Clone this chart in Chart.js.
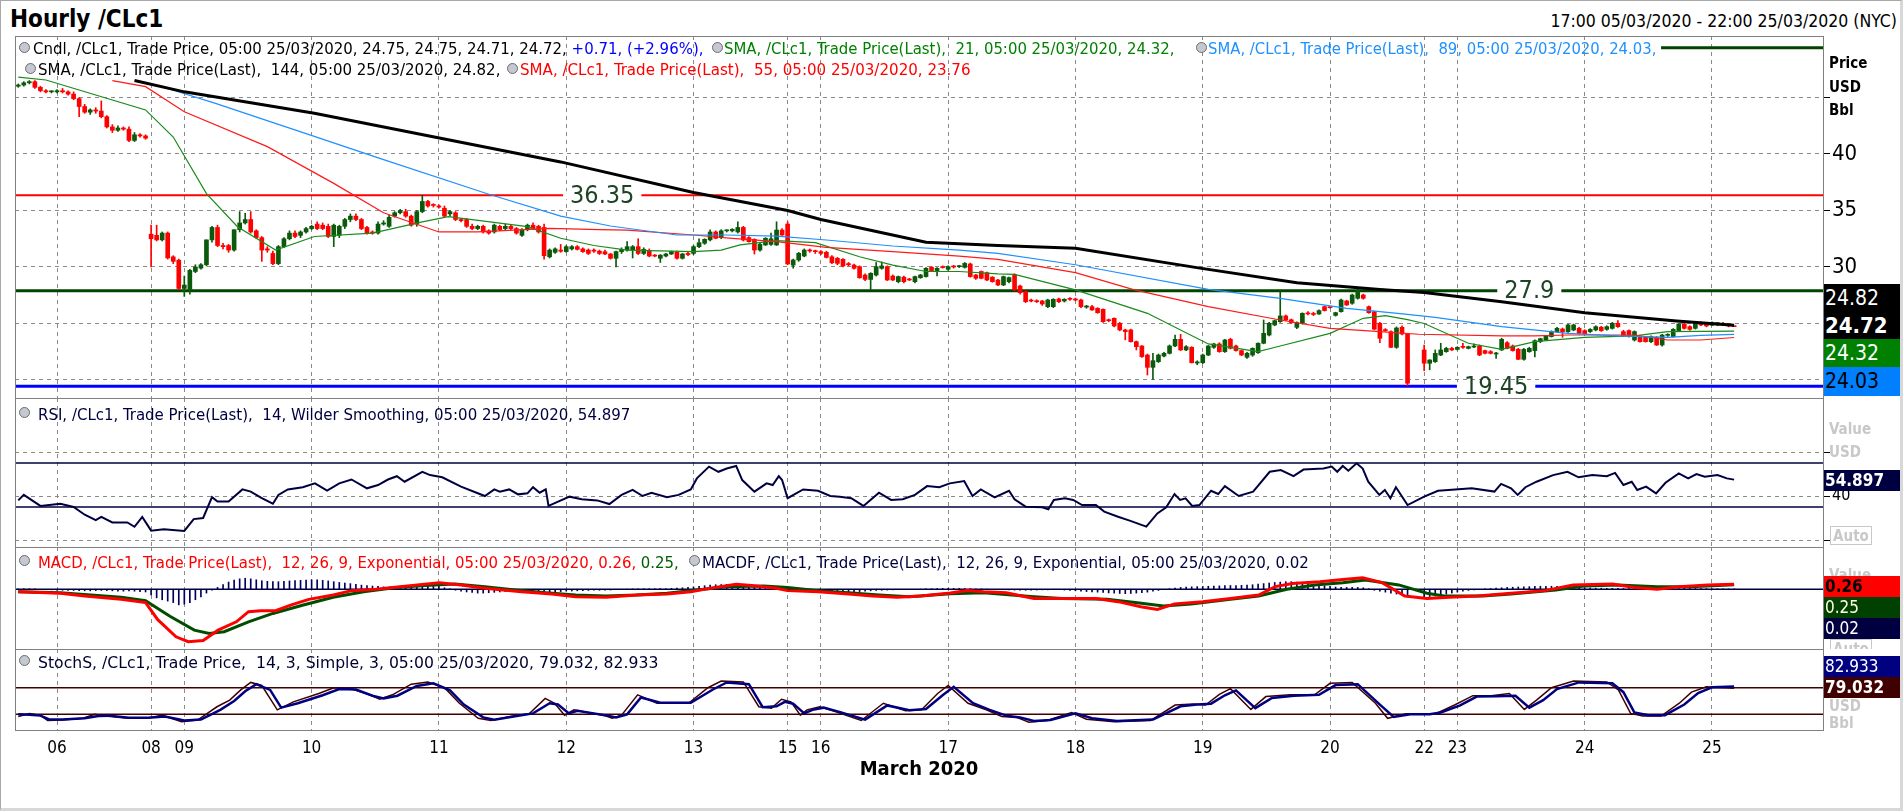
<!DOCTYPE html>
<html>
<head>
<meta charset="utf-8">
<title>Hourly /CLc1</title>
<script src="https://cdn.jsdelivr.net/npm/chart.js@4.4.1/dist/chart.umd.min.js"></script>
<style>
  html, body { margin:0; padding:0; background:#fff; }
  body { width:1903px; height:811px; position:relative; overflow:hidden;
         font-family:"DejaVu Sans Condensed","DejaVu Sans",sans-serif; }
  canvas { position:absolute; left:15px; }
  .t { position:absolute; white-space:nowrap; }
  .lg { position:absolute; font-size:15px; line-height:15px; white-space:nowrap; transform-origin:0 50%; }
  .ico { position:absolute; width:9px; height:9px; border-radius:50%; background:#c4c8d0; border:1px solid #6c6c6c; }
  .hl { position:absolute; left:15px; width:1809px; height:1px; background:#808080; }
  .axis { position:absolute; left:1824px; width:76px; overflow:hidden; }
  .box { position:absolute; left:0; width:76px; padding-left:1px; box-sizing:border-box; white-space:nowrap; }
  .gray { position:absolute; left:5px; color:#c8c8c8; font-weight:bold; font-size:15px; line-height:15px; }
  .auto { position:absolute; left:6px; width:42px; height:19px; border:1px solid #c8c8c8; color:#c8c8c8;
          font-weight:bold; font-size:15px; line-height:19px; text-align:center; box-sizing:border-box; }
</style>
</head>
<body>
<div style="position:absolute;left:0;top:0;width:1903px;height:811px;box-sizing:border-box;border:1px solid #a8a8a8;border-right:3px solid #d8d8d8;border-bottom:3px solid #d8d8d8;"></div>

<canvas id="priceChart" width="1885" height="362" style="top:36px"></canvas>
<canvas id="rsiChart" width="1885" height="149" style="top:398px"></canvas>
<canvas id="macdChart" width="1885" height="102" style="top:547px"></canvas>
<canvas id="stochChart" width="1885" height="133" style="top:649px"></canvas>

<!-- frames -->
<div style="position:absolute;left:15px;top:36px;width:1809px;height:695px;border:1px solid #808080;box-sizing:border-box;pointer-events:none"></div>
<div class="hl" style="top:398px"></div>
<div class="hl" style="top:547px"></div>
<div class="hl" style="top:649px"></div>

<!-- title -->
<div class="t" style="left:10px;top:7px;font-size:24px;line-height:24px;font-weight:bold">Hourly /CLc1</div>
<div class="t" style="right:6px;top:13px;font-size:17.5px;line-height:17.5px">17:00 05/03/2020 - 22:00 25/03/2020 (NYC)</div>

<!-- price legend -->
<span class="ico" style="left:19px;top:42px"></span>
<div class="lg fit" data-w="671" style="left:33px;top:42px">Cndl, /CLc1, Trade Price, 05:00 25/03/2020, 24.75, 24.75, 24.71, 24.72, <span style="color:#0000ff">+0.71, (+2.96%),</span></div>
<span class="ico" style="left:712px;top:42px"></span>
<div class="lg fit" data-w="451" style="left:724px;top:42px;color:#008000">SMA, /CLc1, Trade Price(Last),&nbsp; 21, 05:00 25/03/2020, 24.32,</div>
<span class="ico" style="left:1196px;top:42px"></span>
<div class="lg fit" data-w="449" style="left:1208px;top:42px;color:#1e90ff">SMA, /CLc1, Trade Price(Last),&nbsp; 89, 05:00 25/03/2020, 24.03,</div>
<span class="ico" style="left:25px;top:63px"></span>
<div class="lg fit" data-w="462" style="left:38px;top:63px">SMA, /CLc1, Trade Price(Last),&nbsp; 144, 05:00 25/03/2020, 24.82,</div>
<span class="ico" style="left:507px;top:63px"></span>
<div class="lg fit" data-w="450" style="left:520px;top:63px;color:#ff0000">SMA, /CLc1, Trade Price(Last),&nbsp; 55, 05:00 25/03/2020, 23.76</div>

<!-- RSI legend -->
<span class="ico" style="left:19px;top:407px"></span>
<div class="lg fit" data-w="592" style="left:38px;top:408px;color:#000040">RSI, /CLc1, Trade Price(Last),&nbsp; 14, Wilder Smoothing, 05:00 25/03/2020, 54.897</div>

<!-- MACD legend -->
<span class="ico" style="left:19px;top:555px"></span>
<div class="lg fit" data-w="641" style="left:38px;top:556px;color:#ff0000">MACD, /CLc1, Trade Price(Last),&nbsp; 12, 26, 9, Exponential, 05:00 25/03/2020, 0.26, <span style="color:#006000">0.25,</span></div>
<span class="ico" style="left:689px;top:555px"></span>
<div class="lg fit" data-w="607" style="left:702px;top:556px;color:#000040">MACDF, /CLc1, Trade Price(Last),&nbsp; 12, 26, 9, Exponential, 05:00 25/03/2020, 0.02</div>

<!-- Stoch legend -->
<span class="ico" style="left:19px;top:655px"></span>
<div class="lg fit" data-w="620" style="left:38px;top:656px;color:#000030">StochS, /CLc1, Trade Price,&nbsp; 14, 3, Simple, 3, 05:00 25/03/2020, 79.032, 82.933</div>

<!-- right axis: price -->
<div class="axis" style="top:36px;height:362px">
  <div class="t" style="left:5px;top:20px;font-size:15px;line-height:15px;font-weight:bold">Price</div>
  <div class="t" style="left:5px;top:44px;font-size:15px;line-height:15px;font-weight:bold">USD</div>
  <div class="t" style="left:5px;top:67px;font-size:15px;line-height:15px;font-weight:bold">Bbl</div>
  <div class="box" style="top:248px;height:28px;line-height:28px;background:#000;color:#fff;font-size:21px">24.82</div>
  <div class="box" style="top:276px;height:27px;line-height:27px;background:#000;color:#fff;font-size:22px;font-weight:bold">24.72</div>
  <div class="box" style="top:303px;height:28px;line-height:28px;background:#008000;color:#fff;font-size:21px">24.32</div>
  <div class="box" style="top:331px;height:29px;line-height:29px;background:#0080ff;color:#000;font-size:21px">24.03</div>
</div>
<!-- right axis: RSI -->
<div class="axis" style="top:399px;height:148px">
  <div class="gray" style="top:23px">Value</div>
  <div class="gray" style="top:46px">USD</div>
  <div class="box" style="top:71px;height:21px;line-height:21px;background:#000040;color:#fff;font-size:17px;font-weight:bold">54.897</div>
  <div class="auto" style="top:127px">Auto</div>
</div>
<!-- right axis: MACD -->
<div class="axis" style="top:548px;height:101px">
  <div class="gray" style="top:20px">Value</div>
  <div class="box" style="top:28px;height:21px;line-height:21px;background:#ff0000;color:#000;font-size:17px;font-weight:bold">0.26</div>
  <div class="box" style="top:49px;height:21px;line-height:21px;background:#004000;color:#ffffe0;font-size:17px">0.25</div>
  <div class="box" style="top:70px;height:21px;line-height:21px;background:#000040;color:#fff;font-size:17px">0.02</div>
  <div class="auto" style="top:91px">Auto</div>
</div>
<!-- right axis: Stoch -->
<div class="axis" style="top:650px;height:81px">
  <div class="gray" style="top:26px">Value</div>
  <div class="box" style="top:6px;height:21px;line-height:21px;background:#000080;color:#fff;font-size:17px">82.933</div>
  <div class="box" style="top:27px;height:21px;line-height:21px;background:#400000;color:#fff;font-size:17px;font-weight:bold">79.032</div>
  <div class="gray" style="top:49px">USD</div>
  <div class="gray" style="top:66px">Bbl</div>
</div>

<script>
// ---- x axis (hourly bar index, weekend hours removed; 0 = 00:00 06/03) ----
const dayTicks  = [0, 17, 23, 46, 69, 92, 115, 132, 138, 161, 184, 207, 230, 247, 253, 276, 299];
const dayLabels = ['06','08','09','10','11','12','13','15','16','17','18','19','20','22','23','24','25'];
const T_MIN = -7.59, T_MAX = 319.06;

// ---- price ticks and levels ----
const priceGrid = [20, 25, 30, 35, 40, 45];
const priceTickLabels = [30, 35, 40];
const levelValues = [36.35, 27.9, 19.45];
const levelLabelAt = [98.5, 266, 260];
const topLineValue = 49.4, topLineFrom = 289.8;

// ---- hourly candles [open, high, low, close] ----
const week1Start = -7;
const week1 = [
  [46.0,46.2,45.9,46.1],[46.1,46.4,46.0,46.3],[46.3,46.5,46.2,46.4],[46.4,46.5,45.8,45.9],
  [45.9,46.0,45.5,45.6],[45.6,45.7,45.4,45.5],[45.5,45.6,45.4,45.5],[45.5,45.7,45.4,45.6],
  [45.6,45.8,45.4,45.5],[45.5,45.6,45.2,45.3],[45.3,45.5,44.8,44.9],[44.9,45.0,43.3,44.2],
  [44.2,44.4,43.6,43.7],[43.7,44.0,43.5,43.9],[43.9,44.1,43.6,43.8],[43.8,44.7,43.2,43.3],
  [43.3,43.4,42.3,42.4],[42.4,42.6,41.9,42.1],[42.1,42.5,42.0,42.3],[42.3,42.4,42.1,42.2],
  [42.2,42.4,41.1,41.2],[41.2,41.9,41.1,41.7],[41.7,41.8,41.5,41.6],[41.6,41.7,41.3,41.4]
];
const week2Start = 17;
const week2 = [
  [32.9,33.7,30.0,32.5],[32.8,33.7,32.3,32.4],[32.4,33.1,32.3,33.0],[33.0,33.1,30.7,30.8],
  [30.9,31.0,30.3,30.5],[30.6,30.7,28.0,28.1],[28.1,29.2,27.4,28.4],[28.0,29.8,27.6,29.7],
  [29.6,30.2,29.5,30.0],[29.9,30.3,29.8,30.2],[30.2,32.4,30.1,32.4],[32.4,33.6,32.2,33.5],
  [33.5,33.7,31.8,31.9],[31.9,32.1,31.6,31.8],[31.9,32.0,31.3,31.5],[31.5,33.3,31.4,33.3],
  [33.3,34.9,33.1,33.9],[33.9,34.75,33.8,34.2],[34.2,34.9,33.0,33.1],[33.2,33.3,32.5,32.6],
  [32.6,32.7,30.5,31.5],[31.6,31.8,31.3,31.5],[31.2,31.4,30.2,30.3],[30.3,31.9,30.2,31.8],
  [31.8,32.6,31.7,32.5],[32.5,33.2,32.4,33.0],[33.0,33.2,32.6,32.7],[32.8,33.2,32.6,33.1],
  [33.1,33.5,33.0,33.4],[33.4,33.7,33.3,33.6],[33.8,34.0,33.3,33.4],[33.7,33.9,33.3,33.4],
  [33.6,33.8,32.6,32.7],[32.7,33.8,31.8,33.7],[32.8,33.7,32.6,33.6],[33.6,34.3,33.4,34.2],
  [34.2,34.7,34.0,34.5],[34.5,34.7,34.1,34.2],[34.2,34.3,33.3,33.4],[33.5,33.6,32.9,33.0],
  [33.1,33.2,32.9,33.0],[33.0,34.0,32.9,33.8],[33.8,34.1,33.7,33.9],[33.6,34.6,33.5,34.4],
  [34.5,34.9,34.4,34.8],[34.8,35.1,34.7,35.0],[34.9,35.1,34.4,34.5],[34.5,34.6,33.6,33.7],
  [33.8,35.0,33.6,34.9],[34.9,36.35,34.8,35.8],[35.8,35.9,35.3,35.4],[35.5,35.6,35.3,35.45],
  [35.4,35.5,35.2,35.3],[35.2,35.4,34.4,34.5],[34.7,35.0,34.5,34.9],[34.8,34.9,34.1,34.2],
  [34.2,34.3,34.0,34.1],[34.2,34.3,33.5,33.6],[33.6,33.8,33.3,33.4],[33.4,33.7,33.3,33.6],
  [33.6,33.7,33.0,33.1],[33.2,33.3,32.9,33.0],[33.1,33.8,33.0,33.7],[33.6,33.7,33.2,33.3],
  [33.4,33.8,33.3,33.6],[33.6,33.7,33.3,33.4],[33.4,33.5,32.9,33.0],[32.8,33.4,32.7,33.3],
  [33.3,33.8,33.2,33.7],[33.7,33.9,33.3,33.4],[33.6,33.7,33.0,33.1],[33.5,33.8,30.7,31.0],
  [30.9,31.6,30.8,31.5],[31.3,31.7,31.2,31.6],[31.5,32.0,31.3,31.4],[31.36,31.9,31.3,31.8],
  [31.6,31.9,31.5,31.8],[31.8,31.9,31.5,31.56],[31.6,31.7,31.3,31.36],[31.5,31.6,31.1,31.2],
  [31.5,31.6,31.3,31.4],[31.4,31.5,31.1,31.2],[31.35,31.5,31.1,31.15],[31.15,31.2,30.7,30.77],
  [30.77,31.4,30.0,31.36],[31.36,31.7,31.2,31.56],[31.5,32.24,31.4,31.8],[31.5,31.9,30.8,31.8],
  [31.8,32.5,31.1,31.2],[31.2,31.7,31.1,31.56],[31.45,31.6,30.9,30.97],[31.05,31.1,30.9,30.97],
  [30.77,31.1,30.4,31.05],[30.97,31.2,30.9,31.15],[31.15,31.4,31.1,31.36],[31.3,31.4,30.7,30.77],
  [30.77,31.2,30.7,31.15],[31.2,31.3,31.0,31.1],[31.2,31.9,31.1,31.8],[31.8,32.5,31.7,32.15],
  [32.1,32.5,32.0,32.45],[32.4,33.3,32.3,33.1],[33.1,33.2,32.5,32.54],[32.6,33.3,32.5,33.2],
  [33.2,33.3,33.1,33.25],[33.2,33.4,33.1,33.33],[33.1,34.0,33.0,33.5],[33.5,33.6,32.3,32.39],
  [32.6,32.7,32.2,32.24],[32.45,32.5,31.15,31.5],[31.5,32.1,31.4,32.0],[31.95,32.6,31.9,32.54],
  [32.0,33.0,31.9,32.5],[31.95,34.0,31.9,33.27],[33.27,33.4,32.8,32.83]
];
const week3Start = 132;
const week3 = [
  [33.8,34.0,30.2,30.27],[30.17,30.7,29.9,30.62],[30.62,31.3,30.5,31.21],[30.97,31.6,30.9,31.5],
  [31.5,31.6,31.3,31.42],[31.42,31.5,31.2,31.36],[31.36,31.45,31.1,31.21],[31.3,31.4,30.8,30.85],
  [30.9,31.0,30.3,30.38],[30.77,30.85,30.2,30.32],[30.68,30.75,30.0,30.09],[30.3,30.4,30.1,30.2],
  [30.17,30.25,29.8,29.88],[30.03,30.1,29.0,29.05],[29.29,29.4,28.8,28.9],[28.9,29.5,28.0,29.44],
  [29.29,30.4,29.2,30.03],[29.88,30.45,29.8,30.09],[30.03,30.1,28.8,28.85],[29.2,29.3,28.8,28.85],
  [28.7,29.2,28.6,29.15],[29.1,29.2,28.6,28.7],[28.9,29.0,28.8,28.85],[28.7,29.2,28.6,29.15],
  [29.05,29.35,29.0,29.29],[29.15,29.95,29.1,29.88],[29.97,30.05,29.6,29.68],[29.68,29.95,29.2,29.88],
  [30.0,30.1,29.9,29.95],[29.8,30.1,29.7,30.03],[30.05,30.15,29.9,30.0],[30.03,30.15,29.95,30.09],
  [29.97,30.4,29.9,30.32],[30.27,30.35,29.1,29.15],[29.29,29.35,28.9,29.0],[29.6,29.65,28.95,29.0],
  [29.5,29.55,28.8,28.85],[29.1,29.15,28.65,28.7],[28.85,28.9,28.35,28.41],[28.41,29.2,28.35,29.15],
  [28.7,29.1,28.6,29.06],[29.29,29.4,27.9,27.97],[28.32,28.4,27.6,27.73],[27.82,27.9,26.85,26.93],
  [27.05,27.15,26.9,26.99],[27.0,27.1,26.85,26.93],[26.99,27.05,26.6,26.73],[26.49,27.15,26.4,27.08],
  [26.49,27.2,26.4,27.14],[27.17,27.25,26.85,26.93],[26.99,27.2,26.9,27.14],[27.2,27.3,27.05,27.14],
  [27.15,27.25,27.0,27.08],[27.08,27.15,26.4,26.49],[26.45,26.6,26.35,26.55],[26.49,26.6,26.15,26.2],
  [26.34,26.4,25.9,25.96],[26.25,26.3,25.1,25.16],[25.3,25.4,25.15,25.25],[25.46,25.5,24.7,24.78],
  [25.02,25.1,24.35,24.43],[24.43,24.5,23.55,24.28],[24.43,24.5,23.35,23.39],[23.39,23.45,22.66,22.95],
  [23.01,23.05,22.0,22.07],[22.21,22.3,20.44,21.12],[21.12,22.36,20.06,21.71],[21.62,22.3,21.55,22.21],
  [22.12,22.45,22.05,22.36],[22.36,23.1,22.3,23.01],[23.01,23.98,22.95,23.6],[23.6,24.04,22.6,22.66],
  [22.66,23.05,22.6,22.95],[22.89,22.95,21.5,21.53],[21.5,21.7,21.35,21.6],[21.53,22.3,21.45,22.21],
  [22.21,23.05,22.15,23.01],[22.89,23.25,22.8,23.19],[23.19,23.3,22.45,22.51],[22.51,23.6,22.45,23.54],
  [23.6,23.7,22.75,22.8],[23.01,23.1,22.55,22.6],[22.6,22.65,22.15,22.21],[22.01,22.45,21.9,22.36],
  [22.21,22.85,22.1,22.8],[22.42,23.3,22.35,23.25],[23.25,25.31,23.2,24.13],[23.98,25.1,23.9,25.02],
  [24.87,25.3,24.8,25.25],[25.16,27.82,25.1,25.67],[25.67,25.75,25.25,25.31],[25.33,25.4,25.0,25.08],
  [24.66,25.15,24.55,25.08],[25.02,25.95,24.95,25.9],[25.9,26.05,25.75,25.85],[25.85,26.0,25.7,25.8],
  [25.84,26.2,25.8,26.14],[26.49,26.55,26.1,26.14],[26.45,26.5,26.35,26.4],[25.72,26.0,25.65,25.96],
  [26.05,27.15,26.0,27.08],[26.99,27.05,26.6,26.64],[26.79,27.6,26.7,27.52],[27.23,28.0,27.15,27.91],
  [27.52,27.6,27.15,27.23],[26.49,26.55,25.9,25.96],[26.05,26.1,24.45,24.5],[25.02,25.1,23.3,23.69],
  [24.45,24.55,24.3,24.37],[24.28,24.35,22.85,22.89],[22.89,24.7,22.8,24.6],[24.66,24.8,24.0,24.07],
  [24.07,24.1,19.5,19.71],null,null
];
const week4Start = 247;
const week4 = [
  [22.66,23.1,20.83,21.48],[21.48,21.8,20.9,21.77],[21.62,22.66,21.55,22.36],[22.21,23.25,22.15,22.66],
  [22.51,22.9,22.45,22.8],[22.8,22.9,22.6,22.66],[22.71,22.95,22.65,22.89],[22.95,23.25,22.8,22.89],
  [22.8,23.0,22.75,22.95],[22.92,23.19,22.85,22.98],[23.01,23.1,22.15,22.21],[22.6,22.65,22.3,22.36],
  [22.51,22.6,22.3,22.36],[22.3,22.45,21.92,22.36],[22.66,23.7,22.6,23.6],[23.3,23.4,22.75,22.8],
  [23.01,23.1,22.55,22.6],[22.71,22.8,21.8,21.83],[21.83,22.8,21.75,22.71],[22.51,22.9,22.45,22.8],
  [22.6,23.55,22.05,23.48],[23.39,23.7,23.3,23.66],[23.54,23.95,23.5,23.89],[23.84,24.35,23.8,24.28],
  [24.28,24.65,24.2,24.57],[24.51,24.6,23.78,24.28],[24.28,24.95,24.2,24.87],[24.43,24.95,24.35,24.87],
  [24.57,24.65,24.05,24.13],[24.37,24.45,24.0,24.07],[24.28,24.55,24.2,24.48],[24.43,24.8,24.35,24.72],
  [24.66,24.75,24.3,24.37],[24.48,24.8,24.4,24.72],[24.57,25.1,24.5,25.02],[25.02,25.25,24.65,24.72],
  [24.28,24.4,23.85,23.89],[24.37,24.45,23.8,23.84],[23.54,24.35,23.45,24.28],[23.84,23.9,23.35,23.39],
  [23.78,23.85,23.35,23.39],[23.39,23.9,23.3,23.84],[23.78,23.85,23.05,23.1],[23.1,24.05,23.0,23.98],
  [23.95,24.1,23.85,24.0],[23.84,24.55,23.8,24.48],[24.37,25.0,24.3,24.96],[24.96,25.05,24.5,24.57],
  [24.72,24.8,24.4,24.48],[24.57,25.1,24.5,25.02],[25.07,25.15,24.8,24.87],[25.02,25.1,24.7,24.78],
  [24.84,25.15,24.8,25.07],[24.87,25.1,24.8,25.07],[25.02,25.1,24.8,24.87],[24.96,25.0,24.7,24.78],
  [24.75,24.75,24.71,24.72]
];

// ---- moving averages [bar, value] ----
const sma21 = [[-7,46.8],[-2,46.55],[16,43.9],[21,41.5],[27,36.5],[32.6,33.57],[39.5,31.5],[46.5,32.7],
  [57,33.0],[66,34.0],[70.7,34.45],[85,33.57],[91,32.54],[97,31.9],[103,31.5],[115,31.36],[120,31.5],
  [123.4,31.95],[130,32.33],[137,32.15],[145,30.91],[151,30.17],[157,29.6],[163,29.6],[170,29.4],
  [173,29.35],[184,27.97],[197,25.9],[208,23.19],[217,22.51],[221,23.01],[230,24.13],[236,25.46],
  [240,25.7],[244,25.35],[247,25.0],[255,23.25],[261,22.71],[267,23.39],[276,23.78],[285,23.9],
  [291,24.28],[303,24.32]];
const sma55 = [[10,46.5],[16,45.96],[23,43.74],[38,40.65],[50,37.4],[59,34.8],[69,33.1],[76,33.1],
  [89,33.42],[98,33.3],[103,33.27],[115,32.83],[122,32.54],[130,32.24],[139,31.74],[151,31.36],
  [163,30.97],[170,30.68],[184,29.5],[194.5,28.0],[208,26.49],[221,25.31],[230,24.57],[239,24.28],
  [246,24.05],[261,23.9],[267,23.9],[273,23.98],[285,23.98],[291,23.54],[297,23.54],[303,23.76]];
const sma89 = [[20,45.8],[28.5,44.5],[45,41.8],[59,39.5],[77.6,36.5],[91,34.5],[100,33.63],[112,32.83],
  [121,32.83],[130,32.74],[139,32.39],[151,31.86],[163,31.5],[170,31.2],[184,30.2],[208,28.02],
  [221,27.23],[233,26.34],[239,26.05],[244,25.8],[249,25.55],[261,24.72],[273,24.13],[282,23.9],
  [291,23.78],[297,23.95],[303,24.03]];
const sma144 = [[14,46.5],[23,45.5],[46.5,43.6],[69.3,41.4],[91,39.3],[115,36.6],[132,35.0],[138,34.2],
  [157,32.2],[170,31.9],[184,31.65],[206.5,29.9],[224,28.6],[239,28.0],[247,27.75],[261,26.93],
  [276,25.96],[292.6,25.22],[303,24.85]];

// ---- RSI(14) ----
const rsiLevels = [30, 70];
const rsiGrid = [0, 40, 80];
const rsi14 = [[-7,36],[-6,41],[-3,31],[0.6,33],[3,30],[5,23],[7,18],[8,21],[10,16],[12.7,16],[14,12],
  [15.4,21],[17,8.5],[19.3,9.7],[23,8.2],[24.7,19],[26.4,20],[28,39],[29,35],[31,35],[33.5,46],[35,44],
  [37,38],[39,33],[40,41],[41.7,46],[44.4,48],[46.6,51.5],[48.8,45],[51,51.5],[53.2,55],[56,47],[58,50],
  [59.8,55],[61.4,58],[62.8,53],[66,62],[67.4,59],[69.6,57],[73,48.5],[77.3,40],[79,46],[80,44],
  [81.7,46],[83.3,41.5],[85,42.4],[86,48],[87.2,43],[88.3,46],[88.8,31],[92.6,39.4],[94.8,37],
  [97.6,36],[99.8,32.7],[102,41],[104,45.5],[105.8,40],[107.4,43],[110.2,38.8],[112.3,41],[114.5,46],
  [115.6,56],[117.8,66.7],[119.5,62],[121,65],[122.7,67.3],[123.8,54.5],[126,44],[128.2,51.5],
  [129.3,50],[130.4,58],[131,54.5],[132,38],[134.8,46],[137.5,44.8],[139.7,40],[141.4,39.4],
  [143.5,38],[145.7,31],[148.5,43],[150.7,36.4],[152.8,37],[155,41],[157.2,49],[159.4,48],
  [161.3,51.5],[163.9,53.6],[165.4,40],[166.9,46],[169.4,38.8],[172,44.8],[173,37],[175,30.3],
  [178,29.7],[179.1,27.9],[180.1,36.4],[182.1,37.9],[183.6,36.4],[185.2,31.8],[187.7,31.8],
  [189.2,25.8],[191.7,21.2],[193.8,17.6],[196.8,12.1],[198.8,24.2],[200.4,29.7],[201.9,41.8],
  [202.9,36.4],[203.9,37.9],[205.1,30.9],[206.4,31.8],[208.5,44.8],[209.8,41.8],[211,49],[213.5,40],
  [216.1,44],[219.1,62],[221.1,63.6],[223.4,58],[225.2,64],[228.8,65],[230.3,66.7],[231.3,62],
  [232.3,67.3],[233.3,63],[234.8,69.7],[235.9,65],[236.9,53],[238.9,41],[239.9,45.5],[240.9,38],
  [241.9,48],[244,31.8],[247,39.4],[249.5,44.8],[252.6,46],[255.6,47],[259.7,44],[260.9,51],
  [262.7,47],[263.9,41],[265.3,48],[267.3,53],[270.3,59],[272.9,62],[274.9,57],[277.4,59],[280,58],
  [281.5,61],[283,50],[284.5,53],[285.5,45.5],[287.1,48.5],[288.9,42.4],[290.6,52],[293,60.6],
  [294.7,56],[296.2,60],[297.7,57.6],[300,59],[301.7,56],[303,54.9]];

// ---- MACD(12,26,9) ----
const macdLine = [[-7,-0.13],[0.6,-0.21],[5,-0.35],[11.6,-0.52],[16,-0.7],[18.2,-1.6],[21.5,-2.5],
  [23.7,-2.76],[26.4,-2.7],[29.1,-2.15],[32.4,-1.71],[34.6,-1.18],[36.8,-1.13],[39.5,-1.13],[42.2,-0.83],
  [45.5,-0.53],[49.9,-0.3],[53.2,-0.07],[57.6,0.0],[62,0.14],[66.4,0.26],[69.1,0.35],[73,0.23],
  [77.3,0.05],[83.9,-0.13],[89.4,-0.25],[93.7,-0.39],[99.2,-0.42],[104.7,-0.3],[110.2,-0.25],
  [114.5,-0.13],[118.9,0.1],[122.7,0.26],[125.5,0.2],[129.9,0.05],[132,-0.07],[137.5,-0.13],
  [143,-0.25],[147.4,-0.35],[151.8,-0.42],[156.1,-0.35],[161.4,-0.2],[164.4,-0.07],[167.4,-0.13],
  [171.5,-0.18],[176.5,-0.48],[181.6,-0.48],[187.7,-0.48],[191.7,-0.65],[195.8,-0.92],[198.8,-1.06],
  [201.9,-0.77],[207,-0.65],[212,-0.48],[217.1,-0.3],[220.1,0.14],[223.2,0.31],[228.2,0.4],
  [232.3,0.52],[235.9,0.61],[239.4,0.35],[243.5,-0.35],[247.5,-0.49],[251.6,-0.42],[256.6,-0.35],
  [262.7,-0.21],[268.8,-0.07],[273.9,0.23],[281,0.28],[285,0.1],[289.1,0.0],[293.1,0.14],
  [298.2,0.23],[303,0.26]];
const macdSignal = [[-7,-0.13],[0.6,-0.18],[11.6,-0.42],[16,-0.6],[20.4,-1.42],[24.8,-2.15],[27.5,-2.32],
  [30.2,-2.23],[34.6,-1.71],[39,-1.27],[44.5,-0.83],[49.9,-0.42],[55.4,-0.13],[60.9,0.08],[66.4,0.2],
  [71.9,0.28],[77.3,0.14],[82.8,-0.04],[88.3,-0.18],[93.7,-0.3],[99.2,-0.35],[104.7,-0.3],
  [110.2,-0.21],[115.6,-0.04],[121.1,0.14],[127.7,0.17],[132,0.1],[137.5,-0.07],[143,-0.18],
  [148.5,-0.3],[154,-0.39],[161.4,-0.24],[167.4,-0.18],[176.5,-0.39],[181.6,-0.48],[189.7,-0.53],
  [194.8,-0.7],[199.9,-0.88],[204.9,-0.77],[212,-0.53],[217.1,-0.35],[222.2,0.0],[227.2,0.23],
  [232.3,0.35],[236.4,0.49],[242.4,0.23],[247.5,-0.21],[250.6,-0.35],[257.6,-0.35],[262.7,-0.25],
  [270.8,-0.04],[275.9,0.17],[282,0.23],[289.1,0.14],[295.2,0.14],[303,0.24]];
// histogram, one value per bar from bar -7
const macdHistStart = -7;
const macdHist = [
  0.02,0.03,0.03,0.02,0.0,-0.02,-0.03,-0.04,-0.05,-0.06,-0.06,-0.07,-0.08,-0.08,-0.07,-0.06,-0.07,-0.08,-0.1,-0.1,-0.09,-0.1,-0.12,-0.14,
  -0.3,-0.45,-0.55,-0.62,-0.7,-0.82,-0.78,-0.7,-0.55,-0.4,-0.2,-0.05,
  0.1,0.25,0.38,0.48,0.55,0.58,0.55,0.5,0.45,0.42,0.4,0.4,0.42,0.44,0.46,0.47,0.48,0.5,0.5,0.47,0.44,0.4,
  0.36,0.33,0.3,0.26,0.22,0.19,0.17,0.15,0.13,0.12,0.13,0.14,0.15,0.17,0.18,0.2,0.21,0.2,0.15,0.08,0.02,
  -0.05,-0.1,-0.14,-0.17,-0.2,-0.2,-0.18,-0.16,-0.14,-0.12,-0.1,-0.1,-0.1,-0.1,-0.09,-0.08,-0.1,-0.13,-0.14,
  -0.12,-0.1,-0.09,-0.08,-0.07,-0.06,-0.05,-0.05,-0.04,-0.04,-0.02,0.0,0.01,0.02,0.02,0.03,0.03,0.03,0.04,0.04,0.05,0.06,
  0.08,0.1,0.13,0.16,0.19,0.22,0.24,0.25,0.26,0.26,0.25,0.22,0.2,0.17,0.15,0.13,0.12,0.12,0.1,
  0.02,-0.05,-0.08,-0.1,-0.1,-0.11,-0.12,-0.12,-0.13,-0.13,-0.14,-0.14,-0.13,-0.12,-0.1,-0.08,-0.06,-0.05,-0.04,-0.03,-0.02,-0.02,-0.01,0.0,0.01,0.02,0.03,0.04,0.05,0.05,
  0.05,0.05,0.04,0.03,0.02,0.02,0.01,0.0,-0.01,-0.02,-0.03,-0.04,-0.05,-0.05,-0.05,-0.04,-0.03,-0.03,-0.02,-0.02,
  -0.04,-0.06,-0.08,-0.1,-0.12,-0.14,-0.15,-0.17,-0.19,-0.2,-0.22,-0.23,-0.22,-0.2,-0.18,-0.15,-0.1,-0.06,-0.02,
  0.03,0.07,0.1,0.12,0.13,0.14,0.15,0.16,0.17,0.18,0.19,0.2,0.2,0.21,0.22,0.24,0.27,0.3,0.33,0.36,0.38,
  0.4,0.4,0.38,0.35,0.3,0.26,0.22,0.18,0.15,0.12,0.1,0.1,0.1,0.1,0.08,0.03,
  -0.05,-0.1,-0.15,-0.2,-0.25,-0.3,-0.35,null,null,
  -0.4,-0.38,-0.35,-0.3,-0.25,-0.2,-0.15,-0.1,-0.06,-0.03,0.0,0.02,0.04,0.06,0.08,0.1,0.11,0.12,0.13,0.14,
  0.15,0.16,0.16,0.16,0.15,0.14,0.12,0.1,0.09,0.08,0.07,0.06,0.06,0.05,0.05,0.05,0.04,0.04,0.04,0.04,
  0.05,0.05,0.05,0.05,0.05,0.05,0.05,0.05,0.05,0.04,0.04,0.04,0.03,0.03,0.02,0.02,0.02
];

// ---- Slow stochastic (14,3,3) ----
const stochLevels = [20, 80];
const stochK = [[-7,15],[-5,22],[-3,18],[-1.7,6],[1,7],[4.7,11],[6.8,20],[8.7,16],[12.8,11],[16.2,11],
  [19,18],[22.5,3],[25.4,7],[28.9,37],[31.2,52],[33.2,75],[35,92],[37,85],[39.8,30],[42.7,48],[47.3,67],
  [50,80],[53,78],[56.5,64],[58.3,54],[60.6,64],[64,88],[67,93],[70,80],[72.7,45],[76.1,11],[78.4,6],
  [81.9,15],[85.3,21],[88.2,56],[89.9,45],[91.7,18],[93.4,30],[99.2,16],[100.3,11],[102,18],[104.9,64],
  [108.4,45],[114.1,45],[117.6,80],[120,95],[124,93],[126.8,37],[129.1,34],[130.9,54],[132.6,48],
  [134.3,18],[135.5,30],[137.8,37],[140.6,26],[145.3,6],[149.3,45],[153.3,28],[156.2,30],[159.1,67],
  [161,85],[164.6,45],[167.9,30],[170.7,15],[173.4,13],[175.6,2],[178.9,6],[183.3,24],[186,9],[191,3],
  [197.6,6],[202,41],[205.3,43],[207.5,41],[210,65],[212,78],[215.7,31],[218.4,60],[222.8,64],
  [227.2,64],[230,90],[234,92],[238.2,45],[240.4,11],[243.7,21],[247.6,21],[249.2,22],[252.5,41],
  [255.8,62],[259.1,62],[262.4,67],[265.1,31],[267.3,52],[270,80],[274,95],[280,93],[282.1,75],
  [284.3,22],[286.5,16],[289.8,16],[293.1,45],[295.3,70],[298,82],[303,79]];
const stochD = [[-7,20],[-5,19],[-3,17],[-1.5,9],[1,8],[5,11],[7.5,16],[9.5,17],[13,12],[16.5,12],
  [19.5,15],[23,6],[26,8],[29.5,30],[32,50],[34,72],[36,88],[38.5,75],[40.5,35],[43.5,45],[48,63],
  [51,77],[54,76],[57,62],[59,56],[61.5,62],[65,84],[68,90],[71,74],[73.5,42],[77,13],[79,8],[82.5,15],
  [86,22],[89,45],[90.5,42],[92.5,22],[94,28],[99.5,17],[101,13],[103,20],[105.5,58],[109,46],
  [114.5,46],[118.5,76],[121,92],[125,88],[127.5,36],[130,38],[131.5,48],[133,44],[135,22],[136.5,30],
  [138.5,35],[141.5,25],[146,8],[150,40],[154,29],[157,32],[160,63],[162,82],[165.5,45],[168.5,30],
  [171.5,17],[174,13],[176.5,5],[179.5,7],[184,22],[187,11],[191.5,5],[198,8],[203,38],[206,42],
  [208.5,44],[211,63],[213,74],[216.5,34],[219.5,57],[223.5,62],[228,64],[231,86],[235,88],[239,42],
  [241.5,14],[244.5,20],[248,20],[250,24],[253.5,40],[256.5,60],[260,61],[263.5,62],[266,35],
  [268.5,52],[271,77],[275,92],[281,90],[283,70],[285,24],[287.5,18],[290.5,18],[294,42],[296.5,68],
  [299,81],[303,83]];

// ---------------------------------------------------------------------------
const FONT = '"DejaVu Sans Condensed", "DejaVu Sans", sans-serif';
Chart.defaults.font.family = FONT;
const UP = '#0b5a0b', DOWN = '#ff0000';
const pts = arr => arr.map(p => ({ x: p[0], y: p[1] }));
const flat = (v, a, b) => [{ x: a, y: v }, { x: b, y: v }];

const bodies = [], wicks = [];
[[week1Start, week1], [week2Start, week2], [week3Start, week3], [week4Start, week4]].forEach(function (w) {
    w[1].forEach(function (c, i) {
        if (!c) return;
        var up = c[3] >= c[0];
        bodies.push({ x: w[0] + i, y: [c[0], c[3]], up: up });
        wicks.push({ x: w[0] + i, y: [c[2], c[1]], up: up });
    });
});
const hist = [];
macdHist.forEach(function (v, i) { if (v !== null) hist.push({ x: macdHistStart + i, y: [0, v] }); });

function xAxis(showLabels) {
    return {
        type: 'linear', min: T_MIN, max: T_MAX, offset: false,
        afterBuildTicks: function (s) { s.ticks = dayTicks.map(function (v) { return { value: v }; }); },
        afterFit: function (s) { s.height = showLabels ? 52 : 0; s.paddingLeft = 0; s.paddingRight = 0; },
        grid: { color: '#8a8a8a', lineWidth: 1, drawTicks: false, offset: false },
        border: { display: false, dash: [4, 4] },
        ticks: {
            display: showLabels, autoSkip: false, maxRotation: 0, padding: 8, color: '#000',
            font: { size: 17 },
            callback: function (v) { var i = dayTicks.indexOf(v); return i < 0 ? '' : dayLabels[i]; }
        },
        title: { display: showLabels, text: 'March 2020', color: '#000', font: { size: 20, weight: 'bold' }, padding: 0 }
    };
}
function yAxis(min, max, grid, labels, size) {
    return {
        position: 'right', min: min, max: max,
        afterFit: function (s) { s.width = 77; s.paddingTop = 0; s.paddingBottom = 0; },
        afterBuildTicks: function (s) { s.ticks = (grid || []).map(function (v) { return { value: v }; }); },
        grid: { display: !!grid, color: '#8a8a8a', drawTicks: true, tickLength: 7, tickBorderDash: [],
                tickColor: '#000' },
        border: { display: false, dash: [4, 4] },
        ticks: { display: !!labels, padding: 2, color: '#000', font: { size: size || 16 },
                 callback: function (v) { return labels && labels.indexOf(v) >= 0 ? String(v) : ''; } }
    };
}
const baseOpts = {
    responsive: false, animation: false, devicePixelRatio: 1,
    layout: { padding: 0, autoPadding: false },
    plugins: { legend: { display: false }, tooltip: { enabled: false } },
    elements: { point: { radius: 0 }, line: { tension: 0 } }
};
function opts(scales, extra) { return Object.assign({}, baseOpts, { scales: scales }, extra || {}); }
function line(data, color, width, order) {
    return { type: 'line', data: data, borderColor: color, borderWidth: width, pointRadius: 0, order: order, fill: false };
}

const levelLabels = {
    id: 'levelLabels',
    afterDatasetsDraw: function (chart) {
        var ctx = chart.ctx, x = chart.scales.x, y = chart.scales.y;
        ctx.save();
        ctx.font = '25px ' + FONT;
        ctx.textAlign = 'center';
        ctx.textBaseline = 'middle';
        levelValues.forEach(function (v, i) {
            var px = x.getPixelForValue(levelLabelAt[i]), py = y.getPixelForValue(v);
            var txt = String(v), w = ctx.measureText(txt).width;
            ctx.fillStyle = '#fff';
            ctx.fillRect(px - w / 2 - 7, py - 4, w + 14, 8);
            ctx.fillStyle = '#1d4424';
            ctx.fillText(txt, px, py + 1);
        });
        ctx.restore();
    }
};

// Price chart
new Chart(document.getElementById('priceChart'), {
    type: 'bar',
    data: { datasets: [
        line(flat(levelValues[0], T_MIN, T_MAX), '#ff0000', 2, 20),
        line(flat(levelValues[1], T_MIN, T_MAX), '#004400', 3, 20),
        line(flat(levelValues[2], T_MIN, T_MAX), '#0000ff', 3, 20),
        line(flat(topLineValue, topLineFrom, T_MAX), '#004400', 3, 20),
        { type: 'bar', data: wicks, barThickness: 1, grouped: false, order: 11, borderWidth: 0,
          backgroundColor: function (c) { return c.raw && c.raw.up ? UP : DOWN; } },
        { type: 'bar', data: bodies, barThickness: 4, minBarLength: 1, grouped: false, order: 10, borderWidth: 0,
          backgroundColor: function (c) { return c.raw && c.raw.up ? UP : DOWN; } },
        line(pts(sma21), '#1a8a1a', 1.2, 4),
        line(pts(sma55), '#ff1a1a', 1.2, 3),
        line(pts(sma89), '#1e90ff', 1.2, 2),
        line(pts(sma144), '#000000', 3, 1)
    ] },
    options: opts({ x: xAxis(false), y: yAxis(18.407, 50.442, priceGrid, priceTickLabels, 22) }),
    plugins: [levelLabels]
});

// RSI chart
new Chart(document.getElementById('rsiChart'), {
    type: 'line',
    data: { datasets: [
        line(flat(rsiLevels[0], T_MIN, T_MAX), '#000040', 1.5, 3),
        line(flat(rsiLevels[1], T_MIN, T_MAX), '#000040', 1.5, 3),
        line(pts(rsi14), '#000040', 2, 1)
    ] },
    options: opts({ x: xAxis(false), y: yAxis(-6.36, 129.09, rsiGrid, [40], 16) })
});

// MACD chart
new Chart(document.getElementById('macdChart'), {
    type: 'bar',
    data: { datasets: [
        { type: 'bar', data: hist, barThickness: 1, grouped: false, backgroundColor: '#000060', order: 5 },
        line(flat(0, T_MIN, T_MAX), '#000040', 1.5, 4),
        line(pts(macdSignal), '#004d00', 3, 2),
        line(pts(macdLine), '#ff0000', 3, 1)
    ] },
    options: opts({ x: xAxis(false), y: yAxis(-3.142, 2.226, null, null) })
});

// Stochastic chart (carries the date axis)
new Chart(document.getElementById('stochChart'), {
    type: 'line',
    data: { datasets: [
        line(flat(stochLevels[0], T_MIN, T_MAX), '#400000', 1.5, 4),
        line(flat(stochLevels[1], T_MIN, T_MAX), '#400000', 1.5, 4),
        line(pts(stochK), '#400000', 1.5, 2),
        line(pts(stochD), '#000080', 2.5, 1)
    ] },
    options: opts({ x: xAxis(true), y: yAxis(-15.44, 167.4, null, null) })
});

// fit legend strings to their measured widths
function fitLegends() {
    document.querySelectorAll('.fit').forEach(function (el) {
        el.style.transform = 'none';
        var w = el.scrollWidth, target = +el.dataset.w;
        if (w > 0) el.style.transform = 'scaleX(' + (target / w).toFixed(3) + ')';
    });
}
fitLegends();
if (document.fonts && document.fonts.ready) document.fonts.ready.then(fitLegends);
</script>
</body>
</html>
